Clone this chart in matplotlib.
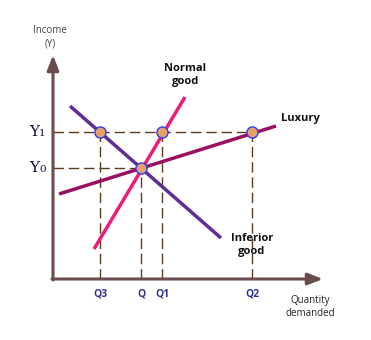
import matplotlib.pyplot as plt

# curve end points (quantity, income)
inferior = ([17, 168], [173, 41])
normal = ([41, 132], [30, 182])
luxury = ([6, 223], [85, 153])

q_labels = ['Q3', 'Q', 'Q1', 'Q2']
q_values = [47, 88, 109, 199]
y_labels = ['Y1', 'Y0']
y_values = [147, 111]

# intersection points
pts_x = [47, 109, 88, 199]
pts_y = [147, 147, 111, 147]

plt.rcParams['font.family'] = ['Open Sans', 'DejaVu Sans']

fig = plt.figure(figsize=(3.71, 3.40), dpi=100)
ax = fig.add_axes([0, 0, 1, 1])
ax.set_xlim(-53, 318)
ax.set_ylim(-61, 279)
ax.axis('off')

dash = dict(color='#5c3d1e', lw=1.0, ls=(0, (7.5, 3.5)), zorder=1)
# horizontal guides
ax.plot([0, q_values[3]], [y_values[0]] * 2, **dash)
ax.plot([0, q_values[1]], [y_values[1]] * 2, **dash)
# vertical guides
ax.plot([q_values[0]] * 2, [0, y_values[0]], **dash)
ax.plot([q_values[1]] * 2, [0, y_values[1]], **dash)
ax.plot([q_values[2]] * 2, [0, y_values[0]], **dash)
ax.plot([q_values[3]] * 2, [0, y_values[0]], **dash)

ax.plot(*inferior, color='#5e2d95', lw=2.5, solid_capstyle='butt', zorder=2)
ax.plot(*normal, color='#ec1c79', lw=2.5, solid_capstyle='butt', zorder=2)
ax.plot(*luxury, color='#9c0e62', lw=2.5, solid_capstyle='butt', zorder=2)

ax.plot(pts_x, pts_y, 'o', ms=8, mfc='#eaa06a', mec='#2840f0', mew=1.0, zorder=3)

# axes with arrows
axcol = '#6a4c4c'
ax.annotate('', xy=(0, 224), xytext=(0, -1),
            arrowprops=dict(arrowstyle='-|>,head_length=0.9,head_width=0.35',
                            color=axcol, lw=2.2, shrinkA=0, shrinkB=0))
ax.annotate('', xy=(270, 0), xytext=(-1, 0),
            arrowprops=dict(arrowstyle='-|>,head_length=0.9,head_width=0.35',
                            color=axcol, lw=2.2, shrinkA=0, shrinkB=0))

ax.text(-3, 242, 'Income\n(Y)', ha='center', va='center', fontsize=7,
        color='#444444', linespacing=1.3)
ax.text(257, -28, 'Quantity\ndemanded', ha='center', va='center', fontsize=7,
        color='#222222', linespacing=1.3)

for lab, v in zip(y_labels, y_values):
    ax.text(-14, v, lab[0], ha='right', va='center', fontsize=11,
            family='DejaVu Serif', color='#111144')
    ax.text(-14, v - 1, lab[1], ha='left', va='center', fontsize=7.5,
            family='DejaVu Serif', color='#111144')

for lab, v in zip(q_labels, q_values):
    ax.text(v, -15, lab, ha='center', va='center', fontsize=7.5,
            fontweight='bold', color='#33338f')

ax.text(132, 204, 'Normal\ngood', ha='center', va='center', fontsize=8,
        fontweight='bold', color='#111111', linespacing=1.35)
ax.text(228, 161, 'Luxury', ha='left', va='center', fontsize=8,
        fontweight='bold', color='#111111')
ax.text(199, 34, 'Inferior\ngood', ha='center', va='center', fontsize=8,
        fontweight='bold', color='#111111', linespacing=1.35)

fig.savefig('out.png', dpi=100)
